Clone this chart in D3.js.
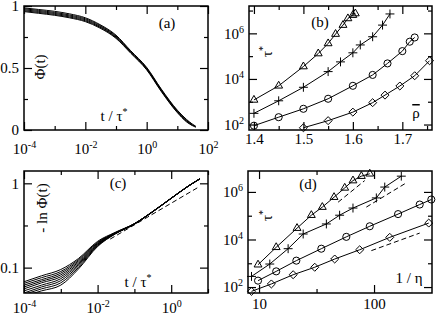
<html>
<script src='https://d3js.org/d3.v7.min.js'></script>
<style>
body {margin: 0; background: white;}
svg text {font-family: "Liberation Serif", "Times New Roman", serif; fill: black;}
.frame {fill: none; stroke: black; stroke-width: 1.5;}
.curve {fill: none; stroke: black; stroke-width: 1;}
.dash {fill: none; stroke: black; stroke-width: 1; stroke-dasharray: 5,3;}
.sym {fill: none; stroke: black; stroke-width: 1;}
</style>
<body>
<svg width=436 height=316></svg>
<script>
// ---- (a) Phi(t) vs t/tau*
var tA = [1e-4, 3e-4, 1e-3, 3e-3, 1e-2, 3e-2, 0.1, 0.3, 1, 3, 10, 20, 30, 40];
var phiCurves = [
  [0.985, 0.972, 0.957, 0.937, 0.905, 0.850, 0.765, 0.640, 0.505, 0.330, 0.160, 0.085, 0.050, 0.030],
  [0.978, 0.964, 0.948, 0.928, 0.897, 0.843, 0.758, 0.635, 0.500, 0.325, 0.155, 0.080, 0.047],
  [0.970, 0.956, 0.940, 0.920, 0.889, 0.836, 0.751, 0.630, 0.495, 0.320, 0.150, 0.075, 0.043, 0.026],
  [0.962, 0.948, 0.932, 0.912, 0.881, 0.829, 0.745, 0.625, 0.490, 0.315, 0.145, 0.070, 0.040],
  [0.955, 0.941, 0.925, 0.905, 0.874, 0.822, 0.739, 0.620, 0.485, 0.310, 0.140, 0.065, 0.037, 0.022]
];

// ---- (b) tau* vs rho
var rhoTri  = [1.40, 1.45, 1.50, 1.53, 1.55, 1.565, 1.58, 1.59, 1.60, 1.605];
var tauTri  = [1.2e3, 5.0e3, 3.5e4, 1.3e5, 3.6e5, 9.3e5, 2.3e6, 4.5e6, 6.3e6, 7.4e6];
var rhoPlus = [1.40, 1.45, 1.50, 1.55, 1.575, 1.60, 1.615, 1.64, 1.66, 1.675];
var tauPlus = [310, 1100, 4.3e3, 2.1e4, 5.6e4, 1.4e5, 3.1e5, 7.1e5, 2.3e6, 7.1e6];
var rhoCirc = [1.40, 1.45, 1.50, 1.55, 1.60, 1.64, 1.67, 1.70, 1.715, 1.725];
var tauCirc = [89, 210, 490, 1350, 5.0e3, 1.5e4, 4.8e4, 1.66e5, 4.3e5, 6.6e5];
var rhoDia  = [1.50, 1.55, 1.60, 1.64, 1.665, 1.695, 1.725, 1.755];
var tauDia  = [72, 148, 350, 910, 1950, 4.9e3, 1.38e4, 6.3e4];

// ---- (c) -ln Phi(t) vs t/tau*
var tC = [1e-4, 3e-4, 1e-3, 3e-3, 1e-2, 3e-2, 0.1, 0.3, 1, 3, 6];
var lnCurves = [
  [0.068, 0.080, 0.095, 0.128, 0.205, 0.262, 0.333, 0.457, 0.667, 0.937, 1.135],
  [0.065, 0.076, 0.090, 0.124, 0.200, 0.259, 0.332, 0.456, 0.666, 0.936, 1.133],
  [0.062, 0.072, 0.086, 0.120, 0.197, 0.257, 0.331, 0.456, 0.666, 0.936, 1.132],
  [0.059, 0.069, 0.082, 0.116, 0.193, 0.256, 0.330, 0.455, 0.665, 0.935, 1.131],
  [0.056, 0.066, 0.078, 0.112, 0.190, 0.255, 0.330, 0.455, 0.665, 0.935, 1.130],
  [0.053, 0.062, 0.074, 0.108, 0.187, 0.254, 0.329, 0.454, 0.664, 0.934, 1.129],
  [0.050, 0.059, 0.070, 0.104, 0.184, 0.253, 0.329, 0.454, 0.664, 0.934, 1.128],
  [0.048, 0.056, 0.066, 0.100, 0.181, 0.252, 0.328, 0.453, 0.663, 0.933, 1.127],
  [0.046, 0.053, 0.062, 0.096, 0.178, 0.250, 0.327, 0.452, 0.662, 0.932, 1.125]
];
var dashC = [[0.022, 0.218], [6.0, 0.92]];

// ---- (d) tau* vs 1/eta
var etaTri  = [9.8, 14.1, 21.4, 28.5, 35.5, 44.9, 55.6, 65.6, 77.6, 91.8];
var tauTriD = [870, 4.7e3, 3.0e4, 1.05e5, 2.3e5, 6.0e5, 1.48e6, 3.0e6, 4.6e6, 5.8e6];
var etaPlus = [8.6, 12.4, 17.9, 24.2, 38.5, 50.2, 65.6, 104.7, 123.9, 172.6];
var tauPlusD = [280, 930, 4.1e3, 1.7e4, 4.5e4, 1.05e5, 2.1e5, 5.6e5, 1.6e6, 4.6e6];
var etaCirc = [9.8, 14.1, 21.1, 34.8, 57.4, 91.8, 161.8, 249.5, 314.8];
var tauCircD = [186, 457, 1290, 4.1e3, 1.29e4, 3.6e4, 1.17e5, 2.95e5, 4.8e5];
var etaDia  = [8.6, 12.8, 19.8, 30.5, 45.5, 75, 137, 299];
var tauDiaD = [66, 135, 330, 680, 1510, 3.7e3, 1.23e4, 4.9e4];
var dashD = [
  [[48.7, 3.7e5], [83, 3.0e6]],
  [[85.7, 2.3e5], [185, 2.2e6]],
  [[94.8, 3.4e3], [249.5, 1.86e4]]
];

var svg = d3.select("svg");
var defs = svg.append("defs");

function addAxis(ax, vals, size, tx, ty, fmt, pad) {
  ax.tickValues(vals).tickSize(-size).tickPadding(pad || 0)
    .tickFormat(fmt && fmt != "pow" ? fmt : function() { return ""; });
  var g = svg.append("g").attr("transform", "translate(" + tx + "," + ty + ")").call(ax);
  g.select(".domain").remove();
  g.attr("font-family", null).attr("font-size", 15);
  g.selectAll(".tick line").attr("stroke-width", 1.2);
  if (!fmt) g.selectAll(".tick text").remove();
  if (fmt == "pow") g.selectAll(".tick text").each(function(d) {
    var e = Math.round(Math.log10(d));
    var t = d3.select(this);
    t.text(null);
    t.append("tspan").text("10");
    t.append("tspan").attr("dy", "-0.6em").attr("font-size", 10).text(e);
  });
}

function axes(xs, ys, o) {
  var l = xs.range()[0], r = xs.range()[1], b = ys.range()[0], t = ys.range()[1];
  addAxis(d3.axisBottom(xs), o.xMajor, 8, 0, b, o.xFmt, o.xPad);
  addAxis(d3.axisBottom(xs), o.xMinor, 4, 0, b);
  addAxis(d3.axisTop(xs), o.xMajor, 8, 0, t);
  addAxis(d3.axisTop(xs), o.xMinor, 4, 0, t);
  addAxis(d3.axisLeft(ys), o.yMajor, 8, l, 0, o.yFmt, o.yPad);
  addAxis(d3.axisLeft(ys), o.yMinor, 4, l, 0);
  addAxis(d3.axisRight(ys), o.yMajor, 8, r, 0);
  addAxis(d3.axisRight(ys), o.yMinor, 4, r, 0);
  defs.append("clipPath").attr("id", o.id).append("rect")
    .attr("x", l).attr("y", t).attr("width", r - l).attr("height", b - t);
  svg.append("rect").attr("class", "frame").attr("x", l).attr("y", t).attr("width", r - l).attr("height", b - t);
}

function label(x, y, txt, rot, anchor) {
  var t = svg.append("text").attr("font-size", 15).attr("text-anchor", anchor || "middle")
    .attr("transform", "translate(" + x + "," + y + ")" + (rot ? " rotate(-90)" : ""));
  txt.forEach(function(p) {
    var s = t.append("tspan").text(p[0]);
    if (p[1]) s.attr("dy", p[1]).attr("font-size", 10);
  });
  return t;
}

var sym = {
  tri: d3.symbol(d3.symbolTriangle2, 44),
  plus: d3.symbol(d3.symbolPlus, 28),
  circ: d3.symbol(d3.symbolCircle, 40),
  dia: d3.symbol(d3.symbolDiamond2, 41)
};

function series(xs, ys, xv, yv, s, clip) {
  var pts = xv.map(function(x, i) { return [x, yv[i]]; });
  svg.append("path").attr("class", "curve").attr("clip-path", "url(#" + clip + ")")
    .attr("d", d3.line().x(function(d) { return xs(d[0]); }).y(function(d) { return ys(d[1]); })(pts));
  svg.append("g").selectAll("path").data(pts).join("path").attr("class", "sym")
    .attr("transform", function(d) { return "translate(" + xs(d[0]) + "," + ys(d[1]) + ")"; })
    .attr("d", sym[s]);
}

// ---------- panel (a)
var xa = d3.scaleLog().domain([1e-4, 1e2]).range([24, 208]);
var ya = d3.scaleLinear().domain([0, 1]).range([130, 6]);
axes(xa, ya, {id: "ca", xMajor: [1e-4, 1e-2, 1, 1e2], xMinor: [1e-3, 1e-1, 10], xFmt: "pow", xPad: 13,
  yMajor: [0, 0.5, 1], yMinor: [0.25, 0.75], yFmt: d3.format("~g"), yPad: 5});
var lineA = d3.line().curve(d3.curveMonotoneX).x(function(d, i) { return xa(tA[i]); }).y(function(d) { return ya(d); });
svg.append("g").attr("clip-path", "url(#ca)").selectAll("path").data(phiCurves).join("path")
  .attr("class", "curve").attr("d", lineA);
label(45, 67, [["\u03a6(t)"]], true);
label(167, 28, [["(a)"]]);
label(114, 121, [["t / \u03c4"], ["*", "-0.6em"]]);

// ---------- panel (b)
var xb = d3.scaleLinear().domain([1.39, 1.76]).range([249, 432]);
var yb = d3.scaleLog().domain([Math.pow(10, 1.76), Math.pow(10, 7.2)]).range([130, 6]);
axes(xb, yb, {id: "cb", xMajor: [1.4, 1.5, 1.6, 1.7], xMinor: [1.45, 1.55, 1.65, 1.75], xFmt: d3.format(".1f"), xPad: 3,
  yMajor: [1e2, 1e4, 1e6], yMinor: [1e3, 1e5, 1e7], yFmt: "pow", yPad: 5});
series(xb, yb, rhoTri, tauTri, "tri", "cb");
series(xb, yb, rhoPlus, tauPlus, "plus", "cb");
series(xb, yb, rhoCirc, tauCirc, "circ", "cb");
series(xb, yb, rhoDia, tauDia, "dia", "cb");
label(320, 27, [["(b)"]]);
label(272, 57, [["\u03c4"], ["*", "-0.6em"]], true, "start");
label(416, 118, [["\u03c1"]]).style("text-decoration", "overline");

// ---------- panel (c)
var xc = d3.scaleLog().domain([1e-4, 10]).range([24, 208]);
var yc = d3.scaleLog().domain([0.05, 1.4]).range([293, 171]);
axes(xc, yc, {id: "cc", xMajor: [1e-4, 1e-2, 1], xMinor: [1e-3, 1e-1, 10], xFmt: "pow", xPad: 9,
  yMajor: [0.1, 1], yMinor: [Math.sqrt(0.1)], yFmt: d3.format("~g"), yPad: 5});
var lineC = d3.line().curve(d3.curveMonotoneX).x(function(d, i) { return xc(tC[i]); }).y(function(d) { return yc(d); });
svg.append("g").attr("clip-path", "url(#cc)").selectAll("path").data(lnCurves).join("path")
  .attr("class", "curve").attr("d", lineC);
svg.append("path").attr("class", "dash")
  .attr("d", d3.line().x(function(d) { return xc(d[0]); }).y(function(d) { return yc(d[1]); })(dashC));
label(47, 208, [["- ln \u03a6(t)"]], true);
label(118, 188, [["(c)"]]);
label(138, 287, [["t / \u03c4"], ["*", "-0.6em"]]);

// ---------- panel (d)
var xd = d3.scaleLog().domain([Math.pow(10, 0.904), Math.pow(10, 2.504)]).range([248, 432]);
var yd = d3.scaleLog().domain([Math.pow(10, 1.75), Math.pow(10, 6.88)]).range([293, 171]);
axes(xd, yd, {id: "cd", xMajor: [10, 100], xMinor: [Math.pow(10, 1.5)], xFmt: d3.format("d"), xPad: 5,
  yMajor: [1e2, 1e4, 1e6], yMinor: [1e3, 1e5], yFmt: "pow", yPad: 5});
series(xd, yd, etaTri, tauTriD, "tri", "cd");
series(xd, yd, etaPlus, tauPlusD, "plus", "cd");
series(xd, yd, etaCirc, tauCircD, "circ", "cd");
series(xd, yd, etaDia, tauDiaD, "dia", "cd");
svg.append("g").selectAll("path").data(dashD).join("path").attr("class", "dash")
  .attr("d", d3.line().x(function(d) { return xd(d[0]); }).y(function(d) { return yd(d[1]); }));
label(308, 189, [["(d)"]]);
label(272, 221, [["\u03c4"], ["*", "-0.6em"]], true, "start");
label(409, 283, [["1 / \u03b7"]]);
</script>
</body>
</html>
